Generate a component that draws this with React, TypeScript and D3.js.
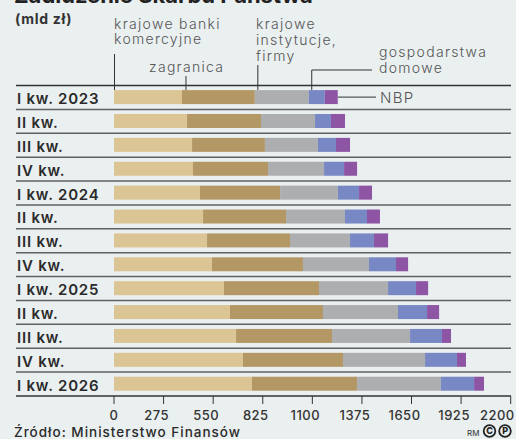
import React from 'react';
import * as d3 from 'd3';

const quarters = ['I kw. 2023', 'II kw.', 'III kw.', 'IV kw.', 'I kw. 2024', 'II kw.', 'III kw.', 'IV kw.', 'I kw. 2025', 'II kw.', 'III kw.', 'IV kw.', 'I kw. 2026'];
const banks = [377, 405, 433, 438, 477, 494, 516, 543, 610, 643, 677, 715, 765];
const foreign = [404, 410, 404, 416, 444, 460, 460, 505, 527, 516, 532, 555, 583];
const institutions = [299, 300, 294, 311, 321, 327, 333, 366, 383, 416, 433, 455, 465];
const households = [89, 88, 100, 111, 117, 122, 133, 150, 155, 161, 177, 177, 184];
const nbp = [72, 78, 78, 72, 72, 72, 78, 67, 67, 67, 50, 50, 55];
const ticks = [0, 275, 550, 825, 1100, 1375, 1650, 1925, 2200];

const keys = ['banks', 'foreign', 'institutions', 'households', 'nbp'];
const colors = ['#dcc594', '#b39865', '#adaeb0', '#7788c4', '#8e55a4'];

const W = 516;
const H = 439;
const FONT = 'Inter, "Noto Sans", sans-serif';

export default function App() {
  const rows = quarters.map((q, i) => ({
    idx: i,
    banks: banks[i],
    foreign: foreign[i],
    institutions: institutions[i],
    households: households[i],
    nbp: nbp[i],
  }));
  const series = d3.stack<any>().keys(keys)(rows);

  const x = d3.scaleLinear().domain([0, 2200]).range([114, 510.7]);
  const y = d3.scaleBand<number>().domain(d3.range(quarters.length)).range([85.5, 396]).padding(0);
  const step = y.step();
  const barOff = 4.6;
  const barH = 14;

  // annotation anchors from the first row
  const r0 = (k: number) => series[k][0];
  const leaderTop = y(0)! + barOff;

  // tick labels sit a little left of their ticks, the last one flush right
  const labelX = (t: number, i: number) => {
    if (i === 0) return { x: x(t), anchor: 'middle' };
    if (i === ticks.length - 1) return { x: x(t) + 4, anchor: 'end' };
    return { x: x(t) - 7, anchor: 'middle' };
  };

  return (
    <svg width={W} height={H} style={{ position: 'absolute', left: 0, top: 0, background: '#eaeff0', fontFamily: FONT }}>
      <rect width={W} height={H} fill="#eaeff0" />
      <text x={14} y={3} fontSize={22} fontWeight={700} fill="#222">Zadłużenie Skarbu Państwa</text>
      <text x={15} y={24} fontSize={14} fontWeight={700} fill="#333" letterSpacing={0.7}>(mld zł)</text>

      {/* legend labels */}
      <g fontSize={14} fontWeight={300} fill="#555" letterSpacing={1.3}>
        <text x={x(0)} y={29}>krajowe banki</text>
        <text x={x(0)} y={44}>komercyjne</text>
        <text x={149} y={72}>zagranica</text>
        <text x={256} y={29}>krajowe</text>
        <text x={256} y={45}>instytucje,</text>
        <text x={256} y={61}>firmy</text>
        <text x={379} y={57}>gospodarstwa</text>
        <text x={379} y={73}>domowe</text>
        <text x={380} y={103} fontSize={15}>NBP</text>
      </g>
      <g stroke="#333" strokeWidth={1} fill="none">
        <line x1={x(0) + 0.5} x2={x(0) + 0.5} y1={54} y2={leaderTop} />
        <line x1={x(r0(1)[0]) + 4} x2={x(r0(1)[0]) + 4} y1={76} y2={leaderTop} />
        <line x1={x(r0(2)[0]) + 3} x2={x(r0(2)[0]) + 3} y1={65} y2={leaderTop} />
        <polyline points={`${x(r0(3)[0]) + 3},${leaderTop} ${x(r0(3)[0]) + 3},70 372,70`} />
        <line x1={x(r0(4)[1])} x2={376} y1={y(0)! + barOff + barH / 2} y2={y(0)! + barOff + barH / 2} />
      </g>

      {/* bars */}
      {series.map((s, k) => (
        <g key={keys[k]} fill={colors[k]}>
          {s.map((d, i) => (
            <rect key={i} x={x(d[0])} y={y(i)! + barOff} width={x(d[1]) - x(d[0])} height={barH} />
          ))}
        </g>
      ))}

      {/* row labels and separators */}
      {quarters.map((q, i) => (
        <g key={i}>
          <text x={17} y={y(i)! + 18.5} fontSize={15} fontWeight={600} fill="#2a2a2a" letterSpacing={0.8}>{q}</text>
          {i < quarters.length - 1 && (
            <line x1={16} x2={511} y1={y(i)! + step} y2={y(i)! + step} stroke="#5f6163" strokeWidth={1.5} />
          )}
        </g>
      ))}
      <line x1={16} x2={511} y1={85.5} y2={85.5} stroke="#333" strokeWidth={1.3} />
      <line x1={16} x2={511} y1={396} y2={396} stroke="#333" strokeWidth={1.3} />

      {/* axis */}
      {ticks.map((t, i) => {
        const l = labelX(t, i);
        return (
          <g key={t}>
            <line x1={x(t)} x2={x(t)} y1={396} y2={404} stroke="#333" strokeWidth={1} />
            <text x={l.x} y={420} textAnchor={l.anchor} fontSize={13} fontWeight={500} fill="#333" letterSpacing={0.5}>{t}</text>
          </g>
        );
      })}

      <text x={14} y={437} fontSize={13.5} fontWeight={500} fill="#2a2a2a" letterSpacing={1}>Źródło: Ministerstwo Finansów</text>
      <text x={467} y={436} fontSize={8} fill="#333">RM</text>
      <g stroke="#222" strokeWidth={1.8} fill="none">
        <circle cx={489.5} cy={431} r={5.8} />
        <circle cx={505} cy={431} r={5.8} />
      </g>
      <text x={489.5} y={434.3} textAnchor="middle" fontSize={9} fontWeight={800} fill="#222">C</text>
      <text x={505.3} y={434.3} textAnchor="middle" fontSize={9} fontWeight={800} fill="#222">P</text>
    </svg>
  );
}
